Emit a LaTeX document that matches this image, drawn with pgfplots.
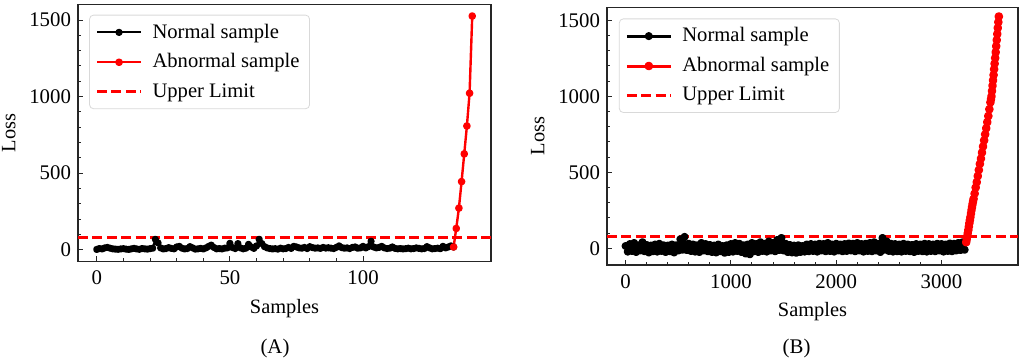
\documentclass[border=0pt]{standalone}
\usepackage{fontspec}
\setmainfont{Liberation Serif}
\usepackage{pgfplots}
\pgfplotsset{compat=1.18}

\pgfplotsset{lossax/.style={
  scale only axis,
  axis line style={line width=0.75pt, black!85},
  tick align=inside, xtick pos=bottom, ytick pos=left,
  major tick length=2.6pt, minor tick length=1.6pt,
  minor x tick num=4, minor y tick num=4,
  every tick/.style={black!85, line width=0.5pt},
  ytick={0,500,1000,1500},
  ticklabel style={font=\fontsize{10.4}{12}\selectfont},
  xticklabel style={yshift=-1.2pt},
  label style={font=\fontsize{10.2}{12}\selectfont},
  /pgf/number format/assume math mode=true,
  /pgf/number format/1000 sep={},
  scaled ticks=false,
  xlabel={Samples}, ylabel={Loss},
  legend cell align=left,
  legend style={font=\fontsize{10.3}{11}\selectfont, draw=black!15, rounded corners=2pt,
    fill=white, fill opacity=0.8, text opacity=1, anchor=north west,
    row sep=2.3pt, inner xsep=3pt, inner ysep=2.3pt,
    /tikz/every odd column/.append style={column sep=3pt}},
  legend image code/.code={\draw[mark repeat=2,mark phase=2,#1] plot coordinates {(0pt,0pt) (11pt,0pt) (22pt,0pt)};},
}}

\begin{document}
\begin{tikzpicture}
\path[use as bounding box] (0,0) rectangle (512pt,181.5pt);

% (A)
\begin{axis}[lossax, at={(39pt,50.65pt)}, anchor=south west,
  width=206.5pt, height=128.5pt,
  xmin=-7.05, xmax=148.05, ymin=-78, ymax=1600, xtick={0,50,100},
  legend style={at={(0.027,0.961)}}]
\addplot[black, line width=1.1pt, line join=round, mark=*, mark size=1.25pt] table[x expr=\coordindex, y index=0] {
y
2
8
5
12
15
10
6
4
3
5
7
4
2
6
9
5
3
8
6
4
7
10
68
45
12
5
8
14
9
6
18
22
10
5
8
20
12
4
6
9
5
12
22
30
15
6
8
5
10
12
42
14
8
40
12
6
10
35
18
9
25
68
40
20
12
8
5
7
4
10
6
8
15
9
22
18
12
10
15
8
20
14
10
12
9
15
11
13
10
8
16
25
14
10
12
8
15
18
10
12
22
12
20
55
18
12
15
22
12
8
10
18
9
6
8
5
7
10
6
8
12
9
6
8
20
12
6
8
10
7
22
12
18
25
18
};
\addlegendentry{Normal sample}
\addplot[red, line width=1.2pt, line join=round, mark=*, mark size=1.3pt] coordinates {
(134,18) (135,139) (136,272) (137,445) (138,626) (139,808) (140,1022) (141,1526)};
\addlegendentry{Abnormal sample}
\addplot[red, line width=1.5pt, dash pattern=on 5pt off 2.2pt] coordinates {(-7.05,80) (148.05,80)};
\addlegendentry{Upper Limit}
\end{axis}

% (B)
\begin{axis}[lossax, at={(303.5pt,49pt)}, anchor=south west,
  width=205.5pt, height=128.8pt,
  xmin=-177, xmax=3727, ymin=-110, ymax=1585, xtick={0,1000,2000,3000},
  legend style={at={(0.029,0.957)}}]
\addplot[black, line width=1.4pt, line join=round, mark=*, mark size=1.3pt] table[row sep=\\] {
x y\\
0 15\\ 20 -22\\ 40 28\\ 60 -18\\ 80 35\\ 100 -25\\ 120 20\\ 140 -15\\ 160 40\\ 180 -20\\
200 22\\ 220 -28\\ 240 18\\ 260 -20\\ 280 25\\ 300 -22\\ 320 30\\ 340 -18\\ 360 20\\ 380 -25\\
400 18\\ 420 -20\\ 440 25\\ 460 -28\\ 480 20\\ 500 -15\\ 520 60\\ 540 -10\\ 560 75\\ 580 -12\\
600 30\\ 620 -18\\ 640 25\\ 660 -22\\ 680 20\\ 700 -25\\ 720 35\\ 740 -15\\ 760 28\\ 780 -20\\
800 22\\ 820 -25\\ 840 18\\ 860 -28\\ 880 25\\ 900 -20\\ 920 15\\ 940 -30\\ 960 20\\ 980 -25\\
1000 28\\ 1020 -22\\ 1040 35\\ 1060 -18\\ 1080 30\\ 1100 -25\\ 1120 20\\ 1140 -35\\ 1160 25\\ 1180 -40\\
1200 35\\ 1220 -20\\ 1240 28\\ 1260 -25\\ 1280 40\\ 1300 -18\\ 1320 30\\ 1340 -22\\ 1360 45\\ 1380 -15\\
1400 35\\ 1420 -20\\ 1440 55\\ 1460 -12\\ 1480 68\\ 1500 -15\\ 1520 30\\ 1540 -25\\ 1560 22\\ 1580 -28\\
1600 18\\ 1620 -30\\ 1640 20\\ 1660 -25\\ 1680 15\\ 1700 -22\\ 1720 25\\ 1740 -20\\ 1760 28\\ 1780 -18\\
1800 25\\ 1820 -22\\ 1840 30\\ 1860 -15\\ 1880 28\\ 1900 -20\\ 1920 35\\ 1940 -18\\ 1960 25\\ 1980 -22\\
2000 30\\ 2020 -15\\ 2040 25\\ 2060 -20\\ 2080 28\\ 2100 -18\\ 2120 32\\ 2140 -15\\ 2160 30\\ 2180 -20\\
2200 35\\ 2220 -15\\ 2240 28\\ 2260 -22\\ 2280 30\\ 2300 -18\\ 2320 35\\ 2340 -20\\ 2360 40\\ 2380 -15\\
2400 30\\ 2420 -25\\ 2440 68\\ 2460 -10\\ 2480 45\\ 2500 -18\\ 2520 30\\ 2540 -22\\ 2560 28\\ 2580 -20\\
2600 25\\ 2620 -22\\ 2640 30\\ 2660 -18\\ 2680 25\\ 2700 -20\\ 2720 22\\ 2740 -25\\ 2760 28\\ 2780 -18\\
2800 25\\ 2820 -20\\ 2840 30\\ 2860 -22\\ 2880 28\\ 2900 -18\\ 2920 25\\ 2940 -20\\ 2960 30\\ 2980 -15\\
3000 28\\ 3020 -22\\ 3040 25\\ 3060 -18\\ 3080 32\\ 3100 -20\\ 3120 30\\ 3140 -15\\ 3160 35\\ 3180 -12\\
3200 40\\ 3220 -10\\ 3235 45\\
};
\addlegendentry{Normal sample}
\addplot[red, line width=1.5pt, line join=round, mark=*, mark size=1.4pt] table[row sep=\\] {
x y\\
3235 40\\ 3240 60\\ 3245 80\\ 3250 100\\ 3255 120\\ 3260 142\\ 3265 165\\ 3270 185\\ 3275 205\\
3280 228\\ 3285 250\\ 3290 270\\ 3295 290\\ 3300 308\\ 3305 325\\ 3315 360\\ 3325 400\\
3335 435\\ 3345 475\\ 3355 515\\ 3365 555\\ 3375 590\\ 3385 630\\ 3395 670\\ 3405 710\\
3415 750\\ 3425 790\\ 3435 830\\ 3445 870\\ 3455 915\\ 3465 960\\ 3470 980\\ 3475 1000\\
3480 1035\\ 3485 1070\\ 3490 1105\\ 3495 1140\\ 3500 1178\\ 3505 1215\\ 3510 1252\\ 3515 1290\\
3520 1330\\ 3525 1370\\ 3530 1410\\ 3535 1450\\ 3540 1488\\ 3545 1525\\
};
\addlegendentry{Abnormal sample}
\addplot[red, line width=1.5pt, dash pattern=on 5pt off 2.2pt] coordinates {(-177,80) (3727,80)};
\addlegendentry{Upper Limit}
\end{axis}

\node[font=\fontsize{10.4}{12}\selectfont] at (137.5pt,7pt) {(A)};
\node[font=\fontsize{10.4}{12}\selectfont] at (398.3pt,7pt) {(B)};
\end{tikzpicture}
\end{document}
